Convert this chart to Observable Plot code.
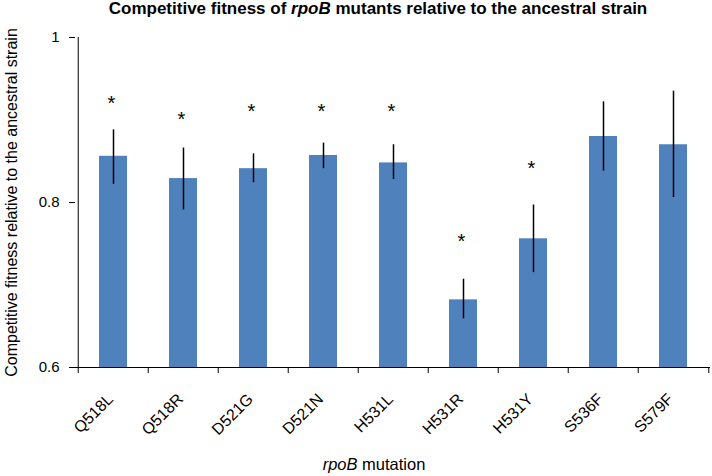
<!DOCTYPE html>
<html><head><meta charset="utf-8">
<script src="https://cdn.jsdelivr.net/npm/d3@7"></script>
<script src="https://cdn.jsdelivr.net/npm/@observablehq/plot@0.6"></script>
<style>
body{margin:0;background:#fff;font-family:"Liberation Sans",Arial,sans-serif}
#wrap{position:relative;width:712px;height:476px}
#title{position:absolute;left:378px;top:0px;transform:translateX(-50%);font-weight:bold;font-size:17px;white-space:nowrap;line-height:18px;color:#000}
#xlab{position:absolute;left:374px;top:455px;transform:translateX(-50%);font-size:16.5px;white-space:nowrap;line-height:18px;color:#000}
#wrap svg{position:absolute;left:0;top:0}
</style></head><body>
<div id="wrap"></div>
<script>
const mutations = ["Q518L","Q518R","D521G","D521N","H531L","H531R","H531Y","S536F","S579F"];
const fitness   = [0.856, 0.829, 0.841, 0.857, 0.848, 0.682, 0.756, 0.880, 0.870];
const errLow    = [0.822, 0.791, 0.824, 0.841, 0.828, 0.659, 0.715, 0.838, 0.806];
const errHigh   = [0.888, 0.866, 0.859, 0.872, 0.870, 0.707, 0.797, 0.922, 0.935];
const starAt    = [0.926, 0.906, 0.916, 0.916, 0.916, 0.759, 0.847, null, null];
const yTicks    = [0.6, 0.8, 1];
const yDomain   = [0.6, 1];
const titleText = "Competitive fitness of <i>rpoB</i> mutants relative to the ancestral strain";
const yLabel    = "Competitive fitness relative to the ancestral strain";
const xLabel    = "<i>rpoB</i> mutation";

const rows = mutations.map((m, i) => ({m, v: fitness[i], lo: errLow[i], hi: errHigh[i], star: starAt[i]}));
const W = 712, H = 476, mL = 75, mR = 2, mT = 37, mB = 109;
const step = (W - mL - mR) / mutations.length;

const chart = Plot.plot({
  width: W, height: H,
  marginLeft: mL, marginRight: mR, marginTop: mT, marginBottom: mB,
  style: {fontFamily: "Liberation Sans, Arial, sans-serif", fontSize: "14px", color: "#000", background: "transparent"},
  x: {domain: mutations, paddingInner: 0.6, paddingOuter: 0.3, axis: null},
  y: {domain: yDomain, axis: null},
  marks: [
    Plot.barY(rows, {x: "m", y1: yDomain[0], y2: "v", fill: "#4f81bd"}),
    Plot.ruleX(rows, {x: "m", y1: "lo", y2: "hi", stroke: "#000", strokeWidth: 1.5}),
    Plot.text(rows.filter(d => d.star != null), {x: "m", y: "star", text: () => "*", fontSize: 20, dy: 5, dx: -2, fill: "#000"}),
    Plot.axisY({ticks: yTicks, tickFormat: d => String(d), tickSize: 6, tickPadding: 10, fontSize: 15, label: null}),
    Plot.axisY({ticks: [], tickSize: 0, fontSize: 16, label: yLabel, labelAnchor: "center", labelOffset: 70, labelArrow: "none"}),
    Plot.axisX({tickRotate: -45, tickSize: 0, tickPadding: 0, fontSize: 16, label: null, dx: -3, dy: 29}),
    Plot.ruleY([yDomain[0]], {stroke: "#000"}),
    Plot.ruleX([mutations[0]], {x: d => d, y1: yDomain[0], y2: yDomain[1], dx: -step / 2, stroke: "#000"}),
    Plot.ruleX(mutations, {x: d => d, y1: yDomain[0], y2: yDomain[0], insetBottom: -6, dx: -step / 2, stroke: "#000"}),
    Plot.ruleX([mutations[mutations.length - 1]], {x: d => d, y1: yDomain[0], y2: yDomain[0], insetBottom: -6, dx: step / 2, stroke: "#000"})
  ]
});
const wrap = document.getElementById("wrap");
wrap.appendChild(chart);
const t = document.createElement("div"); t.id = "title"; t.innerHTML = titleText; wrap.appendChild(t);
const xl = document.createElement("div"); xl.id = "xlab"; xl.innerHTML = xLabel; wrap.appendChild(xl);
</script>
</body></html>
